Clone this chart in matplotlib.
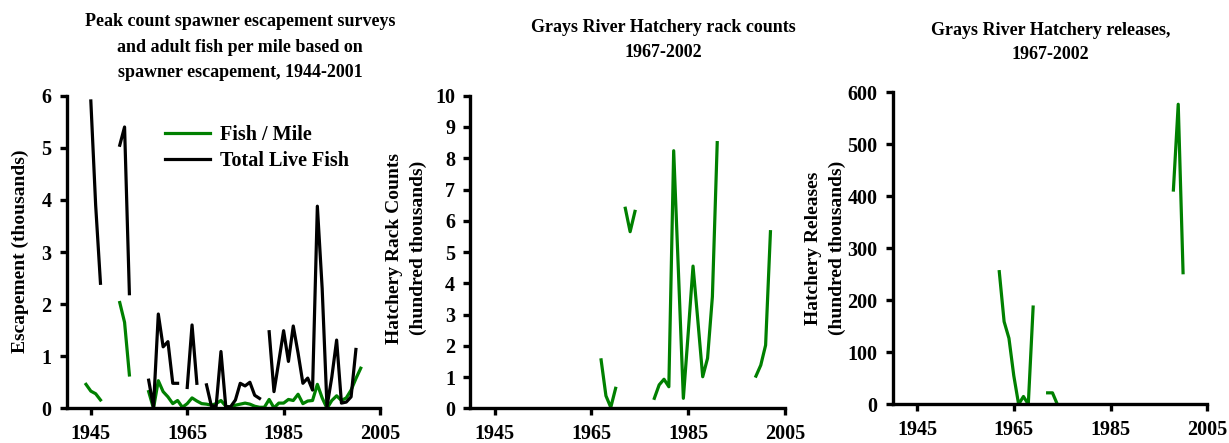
import numpy as np
import matplotlib.pyplot as plt

plt.rcParams['font.family'] = ['Liberation Serif', 'DejaVu Serif']
plt.rcParams['font.weight'] = 'bold'

nan = np.nan

# ---- panel 1: spawner escapement (thousands) ----
years_esc = np.arange(1944, 2002)
total_live = [
    nan, 5.9, 3.9, 2.4, nan, nan, nan, 5.05, 5.4, 2.2,      # 1944-1953
    nan, nan, nan, 0.54, 0.02, 1.81, 1.18, 1.28, 0.48, 0.48,  # 1954-1963
    nan, 0.4, 1.6, 0.48, nan, 0.45, 0.05, 0.04, 1.09, 0.03,   # 1964-1973
    0.03, 0.16, 0.48, 0.43, 0.5, 0.25, 0.19, nan, 1.47, 0.32,  # 1974-1983
    0.9, 1.49, 0.9, 1.58, 1.06, 0.48, 0.58, 0.35, 3.88, 2.3,   # 1984-1993
    0.03, 0.6, 1.31, 0.1, 0.12, 0.22, 1.13, nan,               # 1994-2001
]
fish_per_mile = [
    0.46, 0.33, 0.28, 0.16, nan, nan, nan, 2.03, 1.65, 0.64,   # 1944-1953
    nan, nan, nan, 0.32, 0.0, 0.53, 0.32, 0.22, 0.09, 0.15,    # 1954-1963
    0.02, 0.09, 0.2, 0.14, 0.09, 0.08, 0.06, 0.09, 0.15, 0.04, # 1964-1973
    0.02, 0.06, 0.08, 0.1, 0.08, 0.04, 0.02, 0.02, 0.17, 0.01, # 1974-1983
    0.1, 0.1, 0.17, 0.15, 0.27, 0.09, 0.14, 0.15, 0.46, 0.2,   # 1984-1993
    0.0, 0.15, 0.24, 0.15, 0.2, 0.35, 0.57, 0.77,              # 1994-2001
]

# ---- panel 2: hatchery rack counts (hundred thousands) ----
years_rack = np.arange(1967, 2003)
rack_counts = [
    1.55, 0.4, 0.03, 0.64, nan, 6.4, 5.65, 6.3, nan, nan,      # 1967-1976
    nan, 0.32, 0.75, 0.93, 0.69, 8.24, 4.3, 0.32, 2.4, 4.55,   # 1977-1986
    2.8, 1.01, 1.6, 3.57, 8.5, nan, nan, nan, nan, nan,        # 1987-1996
    nan, nan, 1.03, 1.38, 2.02, 5.65,                          # 1997-2002
]

# ---- panel 3: hatchery releases (hundred thousands) ----
years_rel = np.arange(1962, 2001)
releases = [
    255, 159, 127, 55, 0, 15, 0, 187, nan, nan,               # 1962-1971
    22, 22, 0, nan, nan, nan, nan, nan, nan, nan,             # 1972-1981
    nan, nan, nan, nan, nan, nan, nan, nan, nan, nan,         # 1982-1991
    nan, nan, nan, nan, nan, nan, 412, 577, 253,              # 1992-2000
]

GREEN = '#008000'
xticks = [1945, 1965, 1985, 2005]

fig = plt.figure(figsize=(12.29, 4.43), dpi=100)

ax1 = fig.add_axes([0.0543, 0.0783, 0.2549, 0.7056])
ax2 = fig.add_axes([0.3828, 0.0783, 0.2559, 0.7056])
ax3 = fig.add_axes([0.7265, 0.0874, 0.2558, 0.7043])

ax1.plot(years_esc, fish_per_mile, color=GREEN, lw=2.3, label='Fish / Mile')
ax1.plot(years_esc, total_live, color='black', lw=2.3, label='Total Live Fish')
ax1.set_ylim(0, 6)
ax1.set_yticks(range(0, 7))
ax1.legend(loc='upper left', bbox_to_anchor=(0.314, 0.907), frameon=False,
           fontsize=14.5, handlelength=2.25, handletextpad=0.5, labelspacing=0.3,
           borderpad=0, borderaxespad=0)

ax2.plot(years_rack, rack_counts, color=GREEN, lw=2.3)
ax2.set_ylim(0, 10)
ax2.set_yticks(range(0, 11))

ax3.plot(years_rel, releases, color=GREEN, lw=2.3)
ax3.set_ylim(0, 600)
ax3.set_yticks(range(0, 700, 100))

for ax in (ax1, ax2, ax3):
    ax.set_xlim(1940, 2005)
    ax.set_xticks(xticks)
    ax.spines['top'].set_visible(False)
    ax.spines['right'].set_visible(False)
    for s in ('left', 'bottom'):
        ax.spines[s].set_linewidth(2.4)
    ax.tick_params(direction='out', length=5, width=2.4, labelsize=14.5, pad=6)
    for lab in ax.get_xticklabels() + ax.get_yticklabels():
        lab.set_fontweight('bold')

# y labels
fig.text(0.0165, 0.432, 'Escapement (thousands)', rotation=90, ha='center',
         va='center', fontsize=14)
fig.text(0.3305, 0.44, 'Hatchery Rack Counts\n(hundred thousands)', rotation=90,
         ha='center', va='center', fontsize=14, multialignment='center',
         linespacing=1.5)
fig.text(0.6715, 0.44, 'Hatchery Releases\n(hundred thousands)', rotation=90,
         ha='center', va='center', fontsize=14, multialignment='center',
         linespacing=1.5)

# titles
fig.text(0.1955, 0.893, 'Peak count spawner escapement surveys\nand adult fish per mile based on\n'
         'spawner escapement, 1944-2001', ha='center', va='center', fontsize=13,
         linespacing=1.65)
fig.text(0.54, 0.91, 'Grays River Hatchery rack counts\n1967-2002', ha='center',
         va='center', fontsize=13, linespacing=1.65)
fig.text(0.855, 0.904, 'Grays River Hatchery releases,\n1967-2002', ha='center',
         va='center', fontsize=13, linespacing=1.6)

fig.savefig('out.png', dpi=100)
